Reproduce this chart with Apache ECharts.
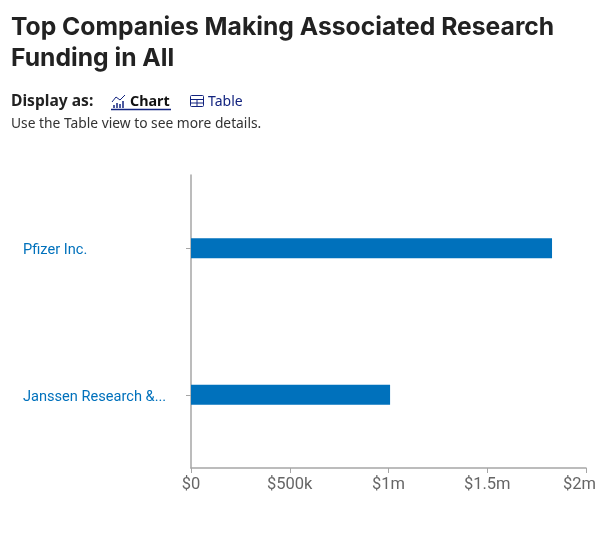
<!DOCTYPE html>
<html>
<head>
<meta charset="utf-8">
<style>html,body{margin:0;padding:0;background:#fff}#chart{width:612px;height:543px}</style>
<script src="https://cdn.jsdelivr.net/npm/echarts@6/dist/echarts.min.js"></script>
</head>
<body>
<div id="chart"></div>
<script>
const companies = ['Pfizer Inc.', 'Janssen Research & Development, LLC'];
const funding = [1828000, 1008000];
const valueTicks = {0: '$0', 500000: '$500k', 1000000: '$1m', 1500000: '$1.5m', 2000000: '{last|$2m}'};
const titleLines = ['Top Companies Making Associated Research', 'Funding in All'];

const navy = '#12237f';
const ink = '#222222';
const line = (x1, y1, x2, y2, stroke, w) => ({
  type: 'line', shape: {x1, y1, x2, y2}, style: {stroke, lineWidth: w || 1}, silent: true
});
const text = (x, y, t, font, fill) => ({
  type: 'text', x, y, silent: true, style: {text: t, font, fill, verticalAlign: 'middle'}
});

const tickFont = {color: '#666666', fontFamily: 'Roboto', fontSize: 16.5};
const chart = echarts.init(document.getElementById('chart'), null, {renderer: 'canvas'});
chart.setOption({
  animation: false,
  grid: {left: 191, top: 175, width: 395, height: 293, containLabel: false},
  xAxis: {
    type: 'value', min: 0, max: 2000000, interval: 500000,
    splitLine: {show: false},
    axisLine: {show: true, lineStyle: {color: '#a6a6a6', width: 1.5}},
    axisTick: {show: true, length: 5, lineStyle: {color: '#a6a6a6', width: 1}},
    axisLabel: {
      ...tickFont, margin: 8,
      hideOverlap: false, showMaxLabel: true, showMinLabel: true,
      formatter: v => valueTicks[v],
      rich: {last: {...tickFont, padding: [0, 13, 0, 0]}}
    }
  },
  yAxis: {
    type: 'category', inverse: true, data: companies,
    axisLine: {show: true, lineStyle: {color: '#a6a6a6', width: 1.5}},
    axisTick: {show: true, length: 5, alignWithLabel: true, lineStyle: {color: '#a6a6a6', width: 1}},
    axisLabel: {
      color: '#0071bc', fontFamily: 'Roboto', fontSize: 14.6, margin: 18,
      align: 'left', verticalAlign: 'top', lineHeight: 5,
      width: 150, overflow: 'truncate', ellipsis: '...',
      padding: [0, 0, 0, -150]
    }
  },
  series: [{
    type: 'bar', data: funding, barWidth: 20, barCategoryGap: 0,
    itemStyle: {color: '#0071bc'}
  }],
  graphic: [
    text(11, 28, titleLines[0], '700 24.7px Inter', ink),
    text(11, 59, titleLines[1], '700 24.7px Inter', ink),
    text(11, 102, 'Display as:', '700 15.6px "Noto Sans"', ink),
    // chart tab icon: small bars under a trend line
    line(114, 105, 114, 108, navy, 1.5),
    line(117, 103, 117, 108, navy, 1.5),
    line(120, 104, 120, 108, navy, 1.5),
    line(123, 101, 123, 108, navy, 1.5),
    {type: 'polyline', silent: true, shape: {points: [[112, 102], [116, 97], [120, 100], [125, 95]]}, style: {stroke: navy, fill: null, lineWidth: 1}},
    text(130, 102, 'Chart', '700 14.3px "Noto Sans"', '#111111'),
    line(111, 109.5, 171, 109.5, navy, 1.5),
    // table tab icon
    {type: 'rect', silent: true, shape: {x: 190.5, y: 95.5, width: 13, height: 11, r: 1}, style: {stroke: navy, fill: null, lineWidth: 1}},
    line(190, 99.5, 204, 99.5, navy, 1),
    line(190, 103, 204, 103, navy, 1),
    line(197, 99.5, 197, 107, navy, 1),
    text(208, 102, 'Table', '400 14px "Noto Sans"', navy),
    text(11, 124.5, 'Use the Table view to see more details.', '400 13.8px "Noto Sans"', '#333333')
  ]
});
</script>
</body>
</html>
